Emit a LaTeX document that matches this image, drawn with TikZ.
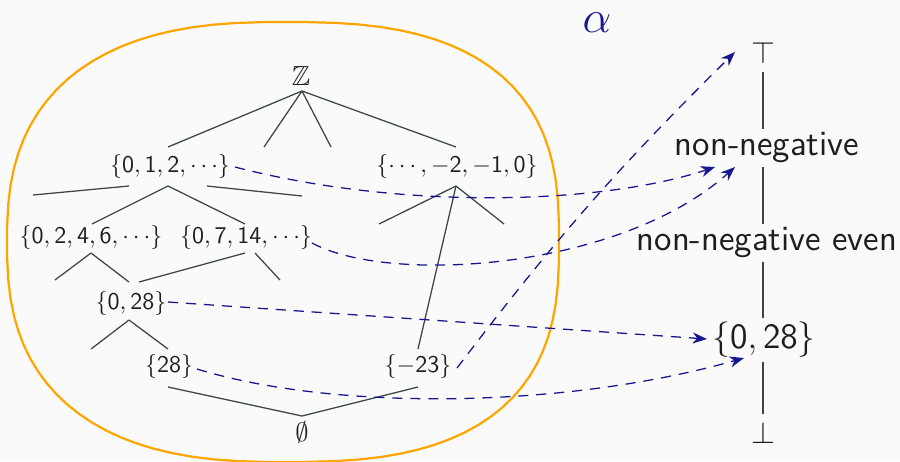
\RequirePackage{fix-cm}
\documentclass[tikz,border=0pt]{standalone}
\usepackage{amssymb}
\usetikzlibrary{arrows.meta,calc}
\DeclareSymbolFont{sfdigits}{OT1}{cmss}{m}{n}
\DeclareMathSymbol{0}{\mathalpha}{sfdigits}{"30}
\DeclareMathSymbol{1}{\mathalpha}{sfdigits}{"31}
\DeclareMathSymbol{2}{\mathalpha}{sfdigits}{"32}
\DeclareMathSymbol{3}{\mathalpha}{sfdigits}{"33}
\DeclareMathSymbol{4}{\mathalpha}{sfdigits}{"34}
\DeclareMathSymbol{5}{\mathalpha}{sfdigits}{"35}
\DeclareMathSymbol{6}{\mathalpha}{sfdigits}{"36}
\DeclareMathSymbol{7}{\mathalpha}{sfdigits}{"37}
\DeclareMathSymbol{8}{\mathalpha}{sfdigits}{"38}
\DeclareMathSymbol{9}{\mathalpha}{sfdigits}{"39}
\definecolor{bg}{RGB}{250,250,250}
\definecolor{txt}{RGB}{30,30,30}
\definecolor{treec}{RGB}{60,70,72}
\definecolor{navy}{RGB}{22,22,145}
\definecolor{blobc}{RGB}{255,165,0}
\begin{document}
\begin{tikzpicture}[x=0.41667pt,y=-0.41667pt,
  treelab/.style={inner sep=0pt,text=txt,font=\fontsize{10}{12}\selectfont},
  rlab/.style={inner sep=1.5pt,text=txt,font=\sffamily\fontsize{14.8}{17}\selectfont},
  bound/.style={inner sep=3.3pt,text=txt,font=\fontsize{12.8}{15}\selectfont},
  tline/.style={draw=treec,line width=0.53pt},
  vline/.style={draw=treec,line width=0.53pt},
  mapto/.style={draw=navy,line width=0.53pt,dash pattern=on 4.2pt off 3.3pt,
    -{Stealth[length=6pt,width=4.6pt]}},
  blob/.style={draw=blobc,line width=0.92pt}]
\useasboundingbox (0,0) rectangle (900,461);
\fill[bg] (0,0) rectangle (900,461);
% orange region (superellipse, squarer on the right)
\draw[blob] plot[domain=-88:88,samples=44,variable=\t]
    ({283+276*sign(cos(\t))*abs(cos(\t))^0.74},{242+220*sign(sin(\t))*abs(sin(\t))^0.74})
  -- plot[domain=92:268,samples=44,variable=\t]
    ({283+276*sign(cos(\t))*abs(cos(\t))^0.79},{242+220*sign(sin(\t))*abs(sin(\t))^0.79})
  -- cycle;
% tree nodes
\node[treelab,font=\fontsize{11.5}{13}\selectfont] (Z) at (301,76) {$\mathbb{Z}$};
\node[treelab] (n012) at (170,166) {$\{0,1,2,\cdots\}$};
\node[treelab] (nneg) at (457,166) {$\{\cdots,-2,-1,0\}$};
\node[treelab] (n0246) at (91,237) {$\{0,2,4,6,\cdots\}$};
\node[treelab] (n0714) at (246,237) {$\{0,7,14,\cdots\}$};
\node[treelab] (n028) at (131,303) {$\{0,28\}$};
\node[treelab] (n28) at (169,366) {$\{28\}$};
\node[treelab] (nm23) at (418,366) {$\{-23\}$};
\node[treelab,font=\fontsize{11}{13}\selectfont] (nemp) at (302,432) {$\emptyset$};
% dangling ends
\coordinate (d1) at (264,147);
\coordinate (d2) at (331,147);
\coordinate (d3) at (33,195);
\coordinate (d4) at (302,196);
\coordinate (d5) at (379,224);
\coordinate (d6) at (504,224);
\coordinate (d7) at (55,280);
\coordinate (d8) at (280,280);
\coordinate (d9) at (91,349);
% tree lines
\draw[tline] ($(Z)+(1,15)$) -- ($(n012)+(-2,-19)$);
\draw[tline] ($(Z)+(1,15)$) -- (d1);
\draw[tline] ($(Z)+(1,15)$) -- (d2);
\draw[tline] ($(Z)+(1,15)$) -- ($(nneg)+(-1,-19)$);
\draw[tline] ($(n012)+(-41,20)$) -- (d3);
\draw[tline] ($(n012)+(-2,20)$) -- ($(n0246)+(1,-13)$);
\draw[tline] ($(n012)+(-2,20)$) -- ($(n0714)+(-1,-13)$);
\draw[tline] ($(n012)+(37,20)$) -- (d4);
\draw[tline] ($(nneg)+(-1,20)$) -- (d5);
\draw[tline] ($(nneg)+(-1,20)$) -- (d6);
\draw[tline] ($(nneg)+(-1,20)$) -- ($(nm23)+(0,-17)$);
\draw[tline] ($(n0246)+(0,16)$) -- (d7);
\draw[tline] ($(n0246)+(0,16)$) -- ($(n028)+(-2,-21)$);
\draw[tline] ($(n0714)+(-1,16)$) -- ($(n028)+(8,-21)$);
\draw[tline] ($(n0714)+(9,16)$) -- (d8);
\draw[tline] ($(n028)+(-2,17)$) -- (d9);
\draw[tline] ($(n028)+(-2,17)$) -- ($(n28)+(-1,-17)$);
\draw[tline] ($(n28)+(-1,21)$) -- ($(nemp)+(0,-16)$);
\draw[tline] ($(nm23)+(0,21)$) -- ($(nemp)+(0,-16)$);
% right lattice
\node[bound] (top) at (763,53) {$\top$};
\node[rlab] (lnn) at (767,148) {non-negative};
\node[rlab] (lnne) at (767,243) {non-negative even};
\node[rlab] (r028) at (764,340) {$\{0,28\}$};
\node[bound] (bot) at (763,433) {$\bot$};
\draw[vline] (top.south) -- (top.south |- lnn.north);
\draw[vline] (lnn.south -| top.south) -- (lnne.north -| top.south);
\draw[vline] (lnne.south -| top.south) -- (r028.north -| top.south);
\draw[vline] (r028.south -| top.south) -- (bot.north);
% alpha
\node[text=navy,inner sep=0pt,font=\fontsize{19}{22}\selectfont] (alpha) at (597,23) {$\alpha$};
% mapping arrows
\draw[mapto] ($(n012)+(65,1)$) .. controls (400,210) and (600,205) .. ($(lnn)+(-52,19)$);
\draw[mapto] ($(n0714)+(66,6)$) .. controls (390,285) and (620,270) .. ($(lnn)+(-32,19)$);
\draw[mapto] ($(nm23)+(39,2)$) to[bend left=4] ($(top)+(-28,-1)$);
\draw[mapto] ($(n028)+(37,-1)$) -- ($(r028)+(-57,-1)$);
\draw[mapto] ($(n28)+(28,3)$) .. controls (330,410) and (560,410) .. ($(r028)+(-20,18)$);
\end{tikzpicture}
\end{document}
